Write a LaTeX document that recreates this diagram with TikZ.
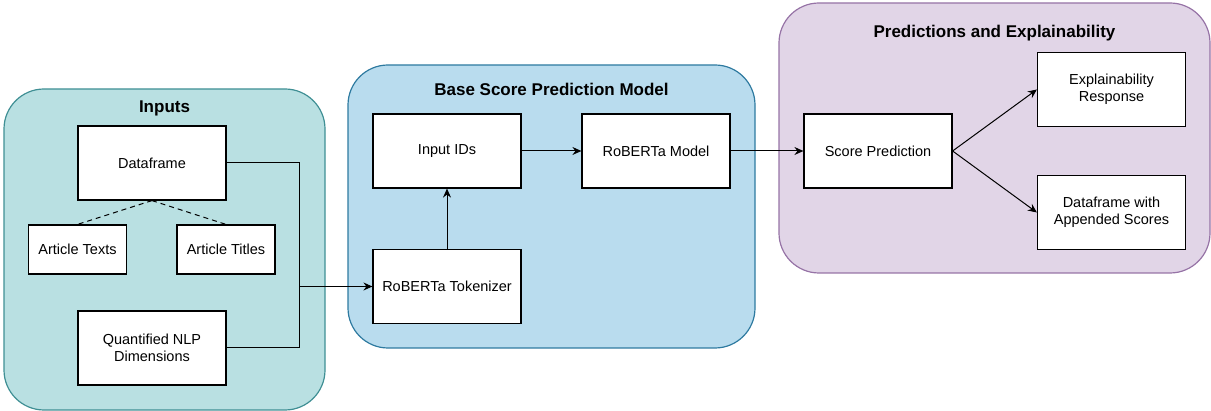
\documentclass[tikz,border=0pt]{standalone}
\usepackage{fontspec}
\setmainfont{Liberation Sans}
\usetikzlibrary{arrows.meta}
\definecolor{tealfill}{HTML}{B9E0E2}
\definecolor{tealline}{HTML}{3F8F94}
\definecolor{bluefill}{HTML}{B9DCEE}
\definecolor{blueline}{HTML}{2E7AA0}
\definecolor{purplefill}{HTML}{E1D5E7}
\definecolor{purpleline}{HTML}{9673A6}
\begin{document}
\begin{tikzpicture}[x=1pt,y=-1pt,
  group/.style={rounded corners=40pt, line width=1.2pt},
  box/.style={draw=black, fill=white, line width=1.2pt, minimum width=148pt, minimum height=74pt, inner sep=2pt, align=center, font=\fontsize{14.5}{17}\selectfont},
  smallbox/.style={box, minimum width=98pt, minimum height=49pt},
  title/.style={font=\fontsize{17}{20}\selectfont\bfseries},
  conn/.style={line width=1pt, draw=black},
  arr/.style={conn, -{Stealth[length=9pt,width=8pt,inset=3pt]}}
]
\useasboundingbox (0,0) rectangle (1211,411);
% containers
\draw[group, fill=tealfill, draw=tealline] (4,89) rectangle (325,410);
\draw[group, fill=bluefill, draw=blueline] (348,65) rectangle (755,348);
\draw[group, fill=purplefill, draw=purpleline] (779,3) rectangle (1210,273);
\node[title] (tin) at (164.5,108) {Inputs};
\node[title] (tbase) at (551.5,89) {Base Score Prediction Model};
\node[title] (tpred) at (994.5,33) {Predictions and Explainability};
% inputs
\node[box] (df) at (152,163) {Dataframe};
\node[smallbox] (at) at (77.5,249.5) {Article Texts};
\node[smallbox] (ati) at (226,249.5) {Article Titles};
\node[box] (nlp) at (152,348) {Quantified NLP\\Dimensions};
% base model
\node[box] (ids) at (447,151) {Input IDs};
\node[box] (rm) at (656,151) {RoBERTa Model};
\node[box] (tok) at (447,286.5) {RoBERTa Tokenizer};
% predictions
\node[box] (sp) at (878,151) {Score Prediction};
\node[box] (er) at (1111.5,89.5) {Explainability\\Response};
\node[box] (das) at (1111.5,212.5) {Dataframe with\\Appended Scores};
% connectors
\draw[conn, dash pattern=on 5pt off 4pt] (df.south) -- (at.north);
\draw[conn, dash pattern=on 5pt off 4pt] (df.south) -- (ati.north);
\coordinate (j) at (299,286.5);
\draw[conn] (df.east) -| (j);
\draw[conn] (nlp.east) -| (j);
\draw[arr] (j) -- (tok.west);
\draw[arr] (tok.north) -- (ids.south);
\draw[arr] (ids.east) -- (rm.west);
\draw[arr] (rm.east) -- (sp.west);
\draw[arr] (sp.east) -- (er.west);
\draw[arr] (sp.east) -- (das.west);
\end{tikzpicture}
\end{document}
